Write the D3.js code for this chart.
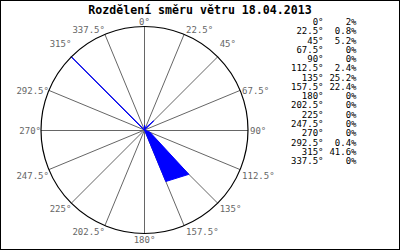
<html>
<head>
<meta charset="utf-8">
<script src="https://d3js.org/d3.v7.min.js"></script>
<style>
body {margin: 0; background: white;}
text {font-family: "DejaVu Sans Mono", monospace;}
</style>
</head>
<body>
<svg width="400" height="250"></svg>
<script>
// wind direction data
var title = "Rozdělení směru větru 18.04.2013";
var directions = [0, 22.5, 45, 67.5, 90, 112.5, 135, 157.5, 180, 202.5, 225, 247.5, 270, 292.5, 315, 337.5];
var percents = [2, 0.8, 5.2, 0, 0, 2.4, 25.2, 22.4, 0, 0, 0, 0, 0, 0.4, 41.6, 0];
var dirLabels = ["0°", "22.5°", "45°", "67.5°", "90°", "112.5°", "135°", "157.5°", "180°", "202.5°", "225°", "247.5°", "270°", "292.5°", "315°", "337.5°"];

var svg = d3.select("svg");
var cx = 144.5, cy = 130, R = 103.5;

// frame
svg.append("rect")
  .attr("x", 0.5).attr("y", 0.5)
  .attr("width", 399).attr("height", 249)
  .attr("fill", "white").attr("stroke", "black");

svg.append("text")
  .attr("x", 200).attr("y", 13.5)
  .attr("text-anchor", "middle")
  .attr("font-size", "11.6px")
  .attr("font-weight", "bold")
  .text(title);

var rScale = d3.scaleLinear().domain([0, d3.max(percents)]).range([0, R]);
var toRad = function(a) { return a * Math.PI / 180; };

var g = svg.append("g").attr("transform", "translate(" + cx + "," + cy + ")");

// spokes
g.selectAll("line.spoke")
  .data(directions)
  .enter()
  .append("line")
  .attr("class", "spoke")
  .attr("x1", 0).attr("y1", 0)
  .attr("x2", function(d) { return R * Math.sin(toRad(d)); })
  .attr("y2", function(d) { return -R * Math.cos(toRad(d)); })
  .attr("stroke", "#666")
  .attr("stroke-width", 1)
  .attr("shape-rendering", function(d) { return d % 90 == 0 ? "crispEdges" : "auto"; });

// data polygon
var radial = d3.lineRadial()
  .angle(function(d, i) { return toRad(directions[i]); })
  .radius(function(d) { return rScale(d); })
  .curve(d3.curveLinearClosed);

g.append("path")
  .attr("d", radial(percents))
  .attr("fill", "#0000ff")
  .attr("stroke", "#0000ff")
  .attr("stroke-width", 1);

g.append("circle")
  .attr("r", R)
  .attr("fill", "none")
  .attr("stroke", "black")
  .attr("stroke-width", 1.2);

// direction labels round the rim
g.selectAll("text.dir")
  .data(directions)
  .enter()
  .append("text")
  .attr("class", "dir")
  .attr("font-size", "9px")
  .attr("fill", "#666")
  .attr("dominant-baseline", "central")
  .attr("text-anchor", function(d) {
    if (d == 0 || d == 180) return "middle";
    return d < 180 ? "start" : "end";
  })
  .attr("x", function(d) {
    var x = R * Math.sin(toRad(d));
    if (d == 0 || d == 180) return x;
    return d < 180 ? x + 2 : x;
  })
  .attr("y", function(d) {
    var c = Math.cos(toRad(d));
    var dy = c > 0.9 ? -4.5 : c > 0.5 ? -13 : c > -0.2 ? 0.5 : 6;
    return -R * c + dy;
  })
  .text(function(d, i) { return dirLabels[i]; });

// table on the right
var rowY = d3.scaleLinear().domain([0, 1]).range([22, 31.27]);
var table = svg.append("g");
table.selectAll("text.ang")
  .data(directions)
  .enter()
  .append("text")
  .attr("class", "ang")
  .attr("font-size", "9px")
  .attr("text-anchor", "end")
  .attr("dominant-baseline", "central")
  .attr("x", 323.5)
  .attr("y", function(d, i) { return rowY(i); })
  .text(function(d, i) { return dirLabels[i]; });

table.selectAll("text.pct")
  .data(percents)
  .enter()
  .append("text")
  .attr("class", "pct")
  .attr("font-size", "9px")
  .attr("text-anchor", "end")
  .attr("dominant-baseline", "central")
  .attr("x", 356.5)
  .attr("y", function(d, i) { return rowY(i); })
  .text(function(d) { return d + "%"; });
</script>
</body>
</html>
